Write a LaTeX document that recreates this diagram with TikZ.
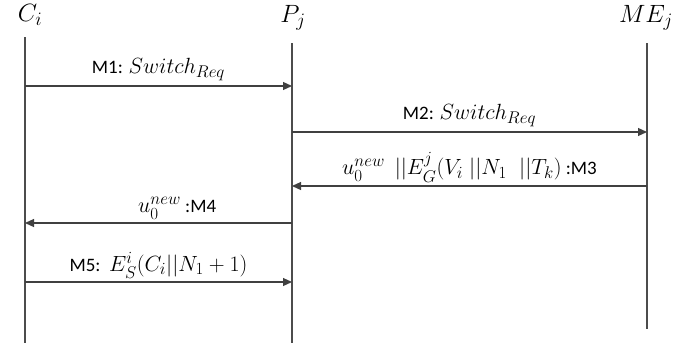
\RequirePackage{fix-cm}
\documentclass[tikz,border=0pt]{standalone}
\usepackage{amsmath}
\usepackage{fontspec}
\setmainfont{Carlito}
\usetikzlibrary{arrows.meta}

\DeclareMathSizes{22}{22}{17}{13}
\DeclareMathSizes{25}{25}{19}{15}
\newcommand{\mathbig}{\fontsize{22}{24}\selectfont}

\begin{document}
\begin{tikzpicture}[x=1pt,y=-1pt,font=\fontsize{19}{22}\selectfont,
  life/.style={draw=black!70,line width=1.3pt},
  msg/.style={draw=black!75,line width=1.2pt,-{Triangle[length=9pt,width=8pt]}}]
\useasboundingbox (0,0) rectangle (680,343);
% parties
\node (ci) at (30,15) {\fontsize{25}{27}\selectfont$C_i$};
\node (pj) at (293,18) {\fontsize{25}{27}\selectfont$P_j$};
\node (mej) at (646,18) {\fontsize{25}{27}\selectfont$ME_j$};
% lifelines
\coordinate (ci top) at (25,37);
\coordinate (ci bot) at (25,343);
\coordinate (pj top) at (292,43);
\coordinate (pj bot) at (292,343);
\coordinate (mej top) at (647,43);
\coordinate (mej bot) at (647,329);
\draw [life] (ci top) -- (ci bot);
\draw [life] (pj top) -- (pj bot);
\draw [life] (mej top) -- (mej bot);
% message points
\coordinate (c1) at (25,86);  \coordinate (p1) at (292,86);
\coordinate (p2) at (292,132); \coordinate (m2) at (647,132);
\coordinate (m3) at (647,186); \coordinate (p3) at (292,186);
\coordinate (p4) at (292,223); \coordinate (c4) at (25,223);
\coordinate (c5) at (25,282);  \coordinate (p5) at (292,282);
% messages
\draw [msg] (c1) -- (p1) node [midway,above=1pt] (m1l) {M1: {\mathbig$Switch_{Req}$}};
\draw [msg] (p2) -- (m2) node [midway,above=1pt] (m2l) {M2: {\mathbig$Switch_{Req}$}};
\draw [msg] (m3) -- (p3) node [midway,above=0pt] (m3l)
  {{\mathbig$u_0^{new}\;\,||E_G^{j}(V_i\;||N_1\;\;||T_k)$} :M3};
\draw [msg] (p4) -- (c4) node [pos=0.43,above=0pt] (m4l)
  {{\mathbig$u_0^{new}$} :M4};
\draw [msg] (c5) -- (p5) node [pos=0.5,above=0pt] (m5l)
  {M5:\ \ {\mathbig$E_S^i(C_i||N_1+1)$}};
\end{tikzpicture}
\end{document}
